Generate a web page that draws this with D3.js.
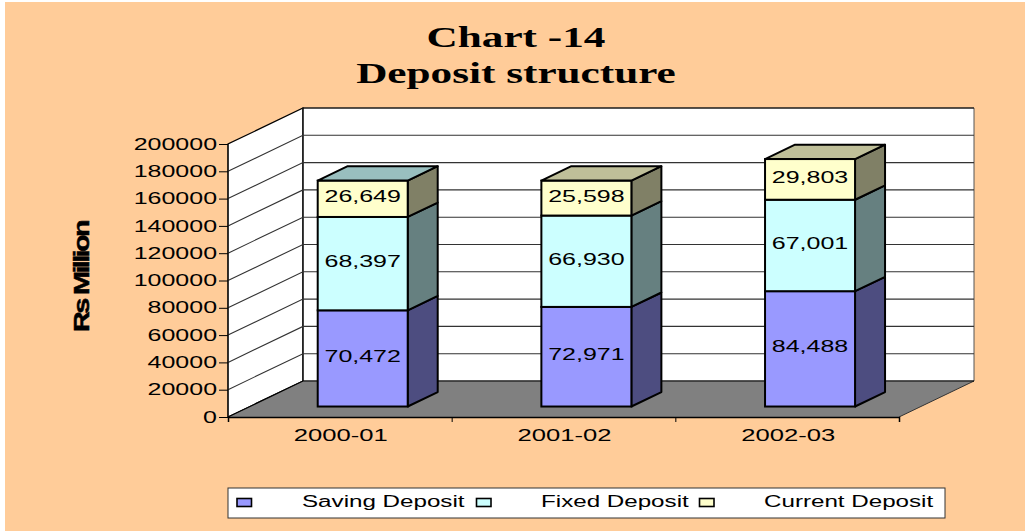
<!DOCTYPE html>
<html><head><meta charset="utf-8">
<script src="https://cdn.jsdelivr.net/npm/d3@7/dist/d3.min.js"></script>
<style>html,body{margin:0;padding:0;background:#fff}svg{display:block}text{font-family:"Liberation Sans",Arial,sans-serif;fill:#000}</style>
</head><body><svg id="c" width="1025" height="531"></svg>
<script>
const categories = ["2000-01","2001-02","2002-03"];
const seriesNames = ["Saving Deposit","Fixed Deposit","Current Deposit"];
const savingDeposit = [70472,72971,84488];
const fixedDeposit = [68397,66930,67001];
const currentDeposit = [26649,25598,29803];
const yTicks = [0,20000,40000,60000,80000,100000,120000,140000,160000,180000,200000];
const titleLines = ["Chart -14","Deposit structure"];
const yTitle = "Rs Million";
const fills = ["#9999ff","#ccffff","#ffffcc"];
const sideFills = ["#4d4d80","#668080","#808066"];
const topFills = ["#99bfbf","#bfbf99","#bfbf99"];

const svg = d3.select("#c");
const wide = (sel, k) => sel.each(function(){
  d3.select(this).attr("textLength", this.getComputedTextLength()*k).attr("lengthAdjust","spacingAndGlyphs");
});
svg.append("rect").attr("x",5).attr("y",2).attr("width",1020).attr("height",529).attr("fill","#ffcc99");

const x = d3.scaleBand().domain(categories).range([228,899]);
const y = d3.scaleLinear().domain([0,200000]).range([417,144]);
const DX = 75, DY = -36;
const BW = 90, depthFrac = 0.4, offFrac = 0.305, SW = 2;

// walls
const pts = a => a.map(p=>p.join(",")).join(" ");
const bx0=x.range()[0], bx1=x.range()[1], yb=y(0), yt=y(200000);
svg.append("polygon").attr("points",pts([[bx0,yb],[bx0+DX,yb+DY],[bx0+DX,yt+DY],[bx0,yt]])).attr("fill","#fff").attr("stroke","#000").attr("stroke-width",1.2);
svg.append("polygon").attr("points",pts([[bx0+DX,yb+DY],[bx1+DX,yb+DY],[bx1+DX,yt+DY],[bx0+DX,yt+DY]])).attr("fill","#fff").attr("stroke","#555").attr("stroke-width",1);
svg.append("path").attr("d",`M${bx0+DX},${yb+DY}V${yt+DY}H${bx1+DX}`).attr("fill","none").attr("stroke","#000").attr("stroke-width",1.2);
// grid
const grid = svg.append("g");
yTicks.filter(t=>t>0 && t<200000).forEach(t=>{
  grid.append("path").attr("d",`M${bx0},${y(t)}L${bx0+DX},${y(t)+DY}H${bx1+DX}`).attr("fill","none").attr("stroke","#333").attr("stroke-width",1.1);
});
// floor
svg.append("polygon").attr("points",pts([[bx0,yb],[bx0+DX,yb+DY],[bx1+DX,yb+DY],[bx1,yb]])).attr("fill","#808080");
svg.append("path").attr("d",`M${bx1},${yb}L${bx1+DX},${yb+DY}`).attr("stroke","#333").attr("fill","none");
svg.append("path").attr("d",`M${bx0},${yb}L${bx0+DX},${yb+DY}H${bx1+DX}`).attr("stroke","#000").attr("fill","none").attr("stroke-width",1.2);

// axes
const yAxis = svg.append("g").attr("transform",`translate(${bx0},0)`).call(d3.axisLeft(y).tickValues(yTicks).tickFormat(d3.format("d")).tickSize(9).tickPadding(2));
yAxis.select(".domain").attr("stroke","#000").attr("d",`M0,${yb}V${yt}`);
yAxis.selectAll("text").style("font-size","16px").call(wide,1.56);
const xAxis = svg.append("g").attr("transform",`translate(0,${yb})`).call(d3.axisBottom(d3.scaleLinear().domain([0,3]).range([bx0,bx1])).ticks(3).tickFormat("").tickSize(5));
xAxis.select(".domain").attr("stroke","#000").attr("stroke-width",1.5);
svg.append("g").selectAll("text").data(categories).join("text")
  .attr("x",d=>x(d)+x.bandwidth()/2+1).attr("y",yb+24).attr("text-anchor","middle").style("font-size","16px").text(d=>d).call(wide,1.6);

// bars
const series = [savingDeposit,fixedDeposit,currentDeposit];
categories.forEach((c,i)=>{
  const g = svg.append("g");
  const cx = x(c)+x.bandwidth()/2 + offFrac*DX;
  const x0 = cx-BW/2, x1 = cx+BW/2;
  const oy = offFrac*DY+0.5, dx = depthFrac*DX, dy = depthFrac*DY;
  let cum = 0;
  series.forEach((s,k)=>{
    const a = y(cum)+oy, b = y(cum+s[i])+oy;
    cum += s[i];
    g.append("polygon").attr("points",pts([[x1,a],[x1+dx,a+dy],[x1+dx,b+dy],[x1,b]])).attr("fill",sideFills[k]).attr("stroke","#000").attr("stroke-width",SW).attr("stroke-linejoin","round");
    g.append("rect").attr("x",x0).attr("y",b).attr("width",BW).attr("height",a-b).attr("fill",fills[k]).attr("stroke","#000").attr("stroke-width",SW);
    if(k===2) g.append("polygon").attr("points",pts([[x0,b],[x0+dx,b+dy],[x1+dx,b+dy],[x1,b]])).attr("fill",topFills[i]).attr("stroke","#000").attr("stroke-width",SW).attr("stroke-linejoin","round");
    g.append("text").attr("x",(x0+x1)/2).attr("y",(a+b)/2+3.5).attr("text-anchor","middle").style("font-size","16px").text(d3.format(",")(s[i])).call(wide,1.56);
  });
});

// titles
svg.selectAll(".t").data(titleLines).join("text").attr("class","t")
  .attr("x",516).attr("y",(d,i)=>47+i*36).attr("text-anchor","middle")
  .style("font-family","'Liberation Serif',serif").style("font-weight","700").style("font-size","29px").text(d=>d).call(wide,1.49);
svg.append("text").attr("transform","translate(89,277) rotate(-90)").attr("text-anchor","middle")
  .style("font-size","22px").style("font-weight","700").style("letter-spacing","-2px").style("stroke","#000").style("stroke-width","0.5px").text(yTitle).call(wide,1.31);

// legend
const lg = svg.append("g");
lg.append("rect").attr("x",228).attr("y",488).attr("width",717).attr("height",30).attr("fill","#fff").attr("stroke","#333");
const lx = [237,476.5,699.5], tx = [302,541,764];
seriesNames.forEach((n,k)=>{
  lg.append("rect").attr("x",lx[k]).attr("y",498.5).attr("width",14.5).attr("height",8).attr("fill",fills[k]).attr("stroke","#000").attr("stroke-width",1.6);
  lg.append("text").attr("x",tx[k]).attr("y",507).style("font-size","16px").text(n).call(wide,1.51);
});
</script></body></html>
